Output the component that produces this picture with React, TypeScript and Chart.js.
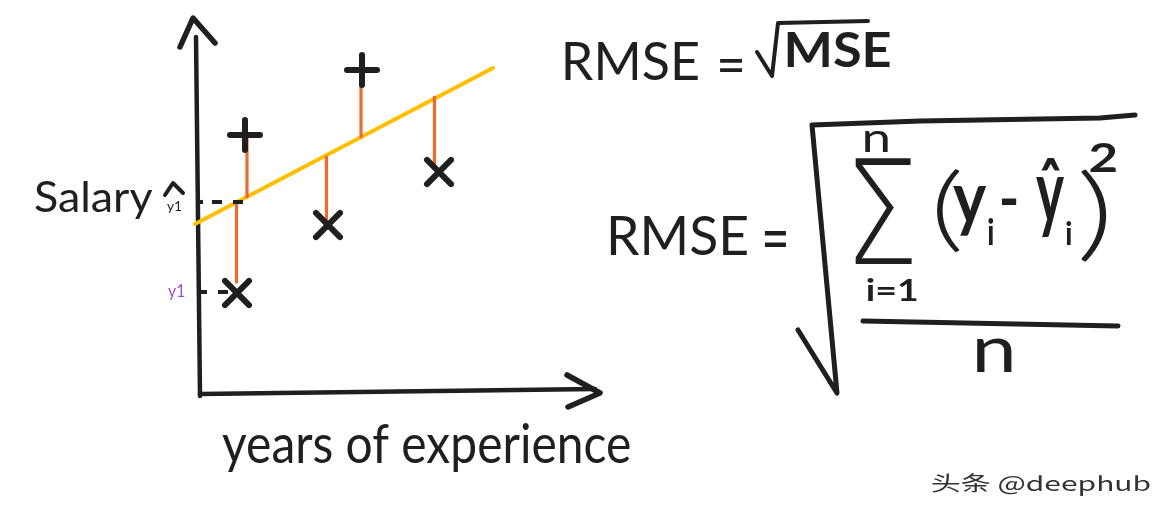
import React, { useEffect, useRef } from "react";
import { Chart, registerables } from "chart.js";

Chart.register(...registerables);

// ---- data (x: years of experience, y: salary; arbitrary units) ----
const plusX = [0.9, 3.24];
const plusY = [5.16, 6.46];
const crossX = [0.74, 2.56, 4.78];
const crossY = [2.0, 3.36, 4.42];

const residualX = [0.94, 0.73, 2.53, 3.22, 4.69];
const residualFrom = [5.1, 3.8, 4.72, 6.22, 5.92];
const residualTo = [3.92, 2.22, 3.42, 5.12, 4.52];

const fitX = [-0.1, 5.86];
const fitY = [3.38, 6.5];

const yHatLevel = 3.82;
const yHatDashX = [-0.06, 0.86];
const yLevel = 2.02;
const yDashX = [0.0, 0.56];

const yAxisX = [0.0, -0.08];
const yAxisY = [-0.06, 7.12];
const yArrowX = [-0.4, -0.14, 0.3];
const yArrowY = [6.92, 7.5, 7.0];
const xAxisX = [0.0, 7.9];
const xAxisY = [-0.02, 0.08];
const xArrowX = [7.34, 8.0, 7.36];
const xArrowY = [0.36, 0.0, -0.28];

// ---- text ----
const yLabel = "Salary";
const xLabel = "years of experience";
const watermark = "头条 @deephub";

const INK = "#1f1f1f";
const HAND = "Lato, 'Open Sans', sans-serif";

const zip = (xs: number[], ys: number[]) => xs.map((x, i) => ({ x, y: ys[i] }));

function fitText(
  ctx: CanvasRenderingContext2D,
  text: string,
  box: [number, number, number, number],
  font: string,
  color: string
) {
  const [x0, y0, x1, y1] = box;
  ctx.save();
  ctx.font = font;
  ctx.textAlign = "left";
  ctx.textBaseline = "alphabetic";
  const m = ctx.measureText(text);
  const w = m.actualBoundingBoxLeft + m.actualBoundingBoxRight;
  const h = m.actualBoundingBoxAscent + m.actualBoundingBoxDescent;
  ctx.translate(x0, y0);
  ctx.scale((x1 - x0) / w, (y1 - y0) / h);
  ctx.fillStyle = color;
  ctx.fillText(text, m.actualBoundingBoxLeft, m.actualBoundingBoxAscent);
  ctx.restore();
}

function stroke(ctx: CanvasRenderingContext2D, pts: number[][], width: number) {
  ctx.save();
  ctx.strokeStyle = INK;
  ctx.lineWidth = width;
  ctx.lineCap = "round";
  ctx.lineJoin = "round";
  ctx.beginPath();
  pts.forEach(([x, y], i) => (i === 0 ? ctx.moveTo(x, y) : ctx.lineTo(x, y)));
  ctx.stroke();
  ctx.restore();
}

const annotations = {
  id: "annotations",
  beforeDatasetsDraw(chart: any) {
    chart.ctx.save();
    chart.ctx.lineCap = "round";
  },
  afterDatasetsDraw(chart: any) {
    chart.ctx.restore();
  },
  afterDraw(chart: any) {
    const ctx: CanvasRenderingContext2D = chart.ctx;
    // axis labels
    fitText(ctx, yLabel, [35, 180, 153, 220], `40px ${HAND}`, INK);
    fitText(ctx, "y1", [167, 202, 182, 213], `14px ${HAND}`, "#222");
    stroke(ctx, [[165, 195], [173, 183], [183, 193]], 4);
    fitText(ctx, "y1", [168, 285, 185, 300], `16px ${HAND}`, "#9b4fd1");
    fitText(ctx, xLabel, [222, 423, 630, 473], `44px ${HAND}`, INK);

    // RMSE = sqrt(MSE)
    fitText(ctx, "RMSE", [565, 42, 698, 80], `50px ${HAND}`, INK);
    fitText(ctx, "=", [720, 57, 743, 71], `40px ${HAND}`, INK);
    stroke(ctx, [[757, 52], [772, 76], [778, 23], [868, 21]], 4);
    fitText(ctx, "MSE", [787, 33, 890, 67], `bold 46px ${HAND}`, INK);

    // RMSE = sqrt( sum (y_i - yhat_i)^2 / n )
    fitText(ctx, "RMSE", [610, 215, 747, 255], `52px ${HAND}`, INK);
    fitText(ctx, "=", [765, 230, 787, 247], `40px ${HAND}`, INK);
    stroke(ctx, [[798, 330], [837, 393], [812, 125], [920, 121], [1100, 118], [1135, 115]], 5);
    fitText(ctx, "n", [865, 130, 888, 152], `30px ${HAND}`, INK);
    fitText(ctx, "Σ", [855, 158, 912, 264], `200 140px 'DejaVu Sans', sans-serif`, INK);
    fitText(ctx, "i=1", [867, 277, 917, 301], `bold 30px ${HAND}`, INK);
    fitText(ctx, "(", [937, 168, 960, 253], `300 110px ${HAND}`, INK);
    fitText(ctx, "y", [953, 185, 987, 235], `bold 50px ${HAND}`, INK);
    fitText(ctx, "i", [988, 217, 994, 245], `bold 30px ${HAND}`, INK);
    fitText(ctx, "−", [1002, 198, 1017, 205], `bold 30px ${HAND}`, INK);
    fitText(ctx, "ŷ", [1036, 158, 1064, 237], `bold 55px ${HAND}`, INK);
    fitText(ctx, "i", [1066, 220, 1072, 245], `bold 30px ${HAND}`, INK);
    fitText(ctx, ")", [1080, 168, 1107, 262], `300 110px ${HAND}`, INK);
    fitText(ctx, "2", [1090, 142, 1117, 172], `bold 34px ${HAND}`, INK);
    stroke(ctx, [[863, 321], [1118, 326]], 5);
    fitText(ctx, "n", [977, 338, 1012, 372], `44px ${HAND}`, INK);

    // watermark
    fitText(ctx, watermark, [932, 473, 1150, 496], `24px 'Noto Sans CJK SC', sans-serif`, "#333");
  },
};

export default function App() {
  const ref = useRef<HTMLCanvasElement | null>(null);

  useEffect(() => {
    if (!ref.current) return;
    const lineDs = (data: any[], color: string, width: number, extra: any = {}) => ({
      type: "scatter",
      data,
      showLine: true,
      borderColor: color,
      borderWidth: width,
      borderCapStyle: "round",
      borderJoinStyle: "round",
      pointRadius: 0,
      fill: false,
      tension: 0,
      clip: false,
      ...extra,
    });

    const residualSets = residualX.map((x, i) =>
      lineDs(zip([x, x], [residualFrom[i], residualTo[i]]), "#f2692c", 3.2)
    );

    const chart = new Chart(ref.current, {
      type: "scatter",
      data: {
        datasets: [
          {
            data: zip(plusX, plusY),
            pointStyle: "cross",
            pointRadius: 15,
            borderColor: INK,
            borderWidth: 6,
            backgroundColor: INK,
            clip: false,
          },
          {
            data: zip(crossX, crossY),
            pointStyle: "crossRot",
            pointRadius: 17,
            borderColor: INK,
            borderWidth: 6,
            backgroundColor: INK,
            clip: false,
          },
          lineDs(zip(yHatDashX, [yHatLevel, yHatLevel]), INK, 4, {
            borderDash: [6, 9, 10, 11, 10, 9],
            borderCapStyle: "butt",
          }),
          lineDs(zip(yDashX, [yLevel, yLevel]), INK, 4, {
            borderDash: [7, 11, 10, 11],
            borderCapStyle: "butt",
          }),
          ...residualSets,
          lineDs(zip(fitX, fitY), "#ffbf00", 4),
          lineDs(zip(yArrowX, yArrowY), INK, 5.5),
          lineDs(zip(yAxisX, yAxisY), INK, 4.5),
          lineDs(zip(xArrowX, xArrowY), INK, 5.5),
          lineDs(zip(xAxisX, xAxisY), INK, 4.5),
        ] as any,
      },
      options: {
        responsive: false,
        animation: false,
        events: [],
        layout: { padding: 0, autoPadding: false },
        plugins: { legend: { display: false }, tooltip: { enabled: false } },
        scales: {
          x: { type: "linear", display: false, min: -4, max: 19.44 },
          y: { type: "linear", display: false, min: -2.46, max: 7.86 },
        },
      },
      plugins: [annotations],
    });
    return () => chart.destroy();
  }, []);

  return (
    <div style={{ position: "fixed", left: 0, top: 0, width: 1172, height: 516, background: "#fff" }}>
      <canvas ref={ref} width={1172} height={516} style={{ display: "block" }} />
    </div>
  );
}
